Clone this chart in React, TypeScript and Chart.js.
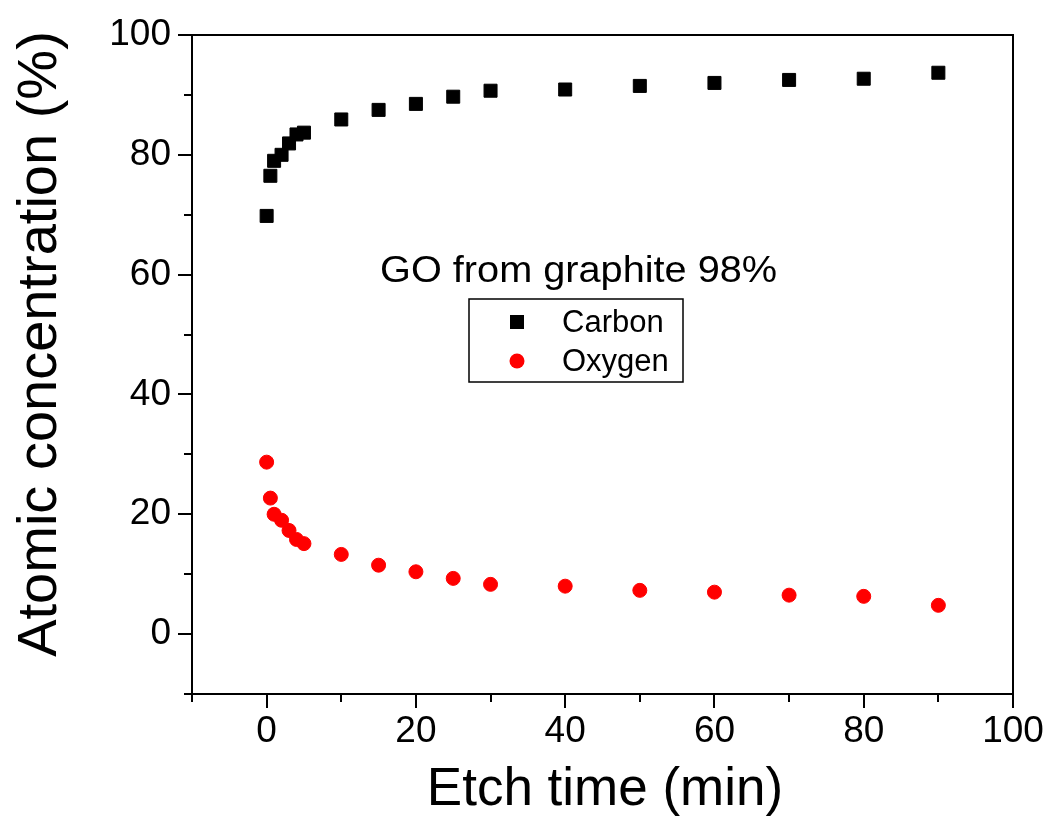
import React, { useEffect, useRef } from 'react';
import { Chart, registerables } from 'chart.js';

Chart.register(...registerables);

const etchTime = [0, 0.5, 1, 2, 3, 4, 5, 10, 15, 20, 25, 30, 40, 50, 60, 70, 80, 90];
const carbon = [69.8, 76.5, 79, 80, 81.9, 83.4, 83.7, 85.9, 87.5, 88.5, 89.7, 90.7, 90.9, 91.5, 92, 92.5, 92.7, 93.7];
const oxygen = [28.7, 22.7, 20, 19, 17.3, 15.8, 15.1, 13.3, 11.5, 10.4, 9.3, 8.3, 8, 7.3, 7, 6.5, 6.3, 4.8];

const seriesNames = ['Carbon', 'Oxygen'];
const seriesColors = ['#000000', '#ff0000'];
const xMajorTicks = [0, 20, 40, 60, 80, 100];
const xMinorTicks = [-10, 10, 30, 50, 70, 90];
const yMajorTicks = [0, 20, 40, 60, 80, 100];
const yMinorTicks = [-10, 10, 30, 50, 70, 90];
const xTitle = 'Etch time (min)';
const yTitle = 'Atomic concentration (%)';
const annotationText = 'GO from graphite 98%';

const FONT = '"Liberation Sans", Arial, Helvetica, sans-serif';
const W = 1051;
const H = 836;

const framePlugin = {
  id: 'frameAndLegend',
  afterDraw(chart: any) {
    const ctx = chart.ctx as CanvasRenderingContext2D;
    const { left, top, right, bottom } = chart.chartArea;
    const xs = chart.scales.x;
    const ys = chart.scales.y;
    ctx.save();
    ctx.strokeStyle = '#000';
    ctx.lineWidth = 2;
    ctx.strokeRect(left, top, right - left, bottom - top);
    ctx.lineCap = 'butt';
    const drawX = (vals: number[], len: number) => {
      vals.forEach((v) => {
        const px = Math.round(xs.getPixelForValue(v));
        ctx.beginPath();
        ctx.moveTo(px, bottom);
        ctx.lineTo(px, bottom + len);
        ctx.stroke();
      });
    };
    const drawY = (vals: number[], len: number) => {
      vals.forEach((v) => {
        const py = Math.round(ys.getPixelForValue(v));
        ctx.beginPath();
        ctx.moveTo(left, py);
        ctx.lineTo(left - len, py);
        ctx.stroke();
      });
    };
    drawX(xMajorTicks, 14);
    drawX(xMinorTicks, 8);
    drawY(yMajorTicks, 14);
    drawY(yMinorTicks, 8);

    ctx.fillStyle = '#000';

    // axis titles
    ctx.font = `53px ${FONT}`;
    ctx.textAlign = 'center';
    ctx.textBaseline = 'alphabetic';
    ctx.fillText(xTitle, 605, 805);

    ctx.save();
    ctx.font = `56px ${FONT}`;
    ctx.translate(56, 344);
    ctx.rotate(-Math.PI / 2);
    ctx.fillText(yTitle, 0, 0);
    ctx.restore();

    // annotation text
    ctx.font = `36px ${FONT}`;
    ctx.textAlign = 'left';
    ctx.textBaseline = 'alphabetic';
    const ax = xs.getPixelForValue(15.2);
    const ay = ys.getPixelForValue(58.8);
    const tw = ctx.measureText(annotationText).width;
    const targetW = 397;
    ctx.save();
    ctx.translate(ax, ay);
    ctx.scale(targetW / tw, 1);
    ctx.fillText(annotationText, 0, 0);
    ctx.restore();

    // legend
    const bx = 469, by = 299, bw = 214, bh = 83;
    ctx.lineWidth = 1.5;
    ctx.strokeRect(bx, by, bw, bh);
    ctx.font = `31px ${FONT}`;
    ctx.textBaseline = 'middle';
    const rows = [322, 361];
    seriesNames.forEach((name, i) => {
      const cy = rows[i];
      ctx.fillStyle = seriesColors[i];
      if (i === 0) {
        ctx.fillRect(517 - 7, cy - 7, 14, 14);
      } else {
        ctx.beginPath();
        ctx.arc(517, cy, 7.5, 0, Math.PI * 2);
        ctx.fill();
      }
      ctx.fillStyle = '#000';
      ctx.fillText(name, 562, cy + 1);
    });
    ctx.restore();
  },
};

const zeroPad = (s: any) => {
  s.paddingLeft = 0;
  s.paddingRight = 0;
  s.paddingTop = 0;
  s.paddingBottom = 0;
};

export default function App() {
  const ref = useRef<HTMLCanvasElement | null>(null);
  useEffect(() => {
    if (!ref.current) return;
    const chart = new Chart(ref.current, {
      type: 'scatter',
      data: {
        datasets: [
          {
            label: seriesNames[0],
            data: etchTime.map((t, i) => ({ x: t, y: carbon[i] })),
            pointStyle: 'rect',
            pointRadius: 9.2,
            pointBackgroundColor: seriesColors[0],
            pointBorderColor: seriesColors[0],
            pointBorderWidth: 1,
            showLine: false,
          },
          {
            label: seriesNames[1],
            data: etchTime.map((t, i) => ({ x: t, y: oxygen[i] })),
            pointStyle: 'circle',
            pointRadius: 7,
            pointBackgroundColor: seriesColors[1],
            pointBorderColor: seriesColors[1],
            pointBorderWidth: 1,
            showLine: false,
          },
        ],
      },
      options: {
        animation: false,
        responsive: false,
        devicePixelRatio: 1,
        layout: { padding: { left: 0, top: 35, right: 38, bottom: 0 } },
        plugins: { legend: { display: false }, tooltip: { enabled: false } },
        scales: {
          x: {
            type: 'linear',
            min: -10,
            max: 100,
            grid: { display: false, drawTicks: false },
            border: { display: false },
            afterBuildTicks: (s: any) => {
              s.ticks = xMajorTicks.map((v) => ({ value: v }));
            },
            afterFit: (s: any) => {
              s.height = 142;
              zeroPad(s);
            },
            ticks: {
              autoSkip: false,
              maxRotation: 0,
              padding: 16,
              color: '#000',
              font: { family: FONT, size: 37 },
            },
            title: { display: false, text: xTitle },
          },
          y: {
            type: 'linear',
            min: -10,
            max: 100,
            grid: { display: false, drawTicks: false },
            border: { display: false },
            afterBuildTicks: (s: any) => {
              s.ticks = yMajorTicks.map((v) => ({ value: v }));
            },
            afterFit: (s: any) => {
              s.width = 192;
              zeroPad(s);
            },
            ticks: {
              autoSkip: false,
              padding: 21,
              color: '#000',
              font: { family: FONT, size: 37 },
            },
            title: { display: false, text: yTitle },
          },
        },
      },
      plugins: [framePlugin],
    });
    return () => chart.destroy();
  }, []);
  return (
    <div style={{ position: 'fixed', left: 0, top: 0, width: W, height: H, background: '#fff' }}>
      <canvas ref={ref} width={W} height={H} style={{ display: 'block' }} />
    </div>
  );
}
